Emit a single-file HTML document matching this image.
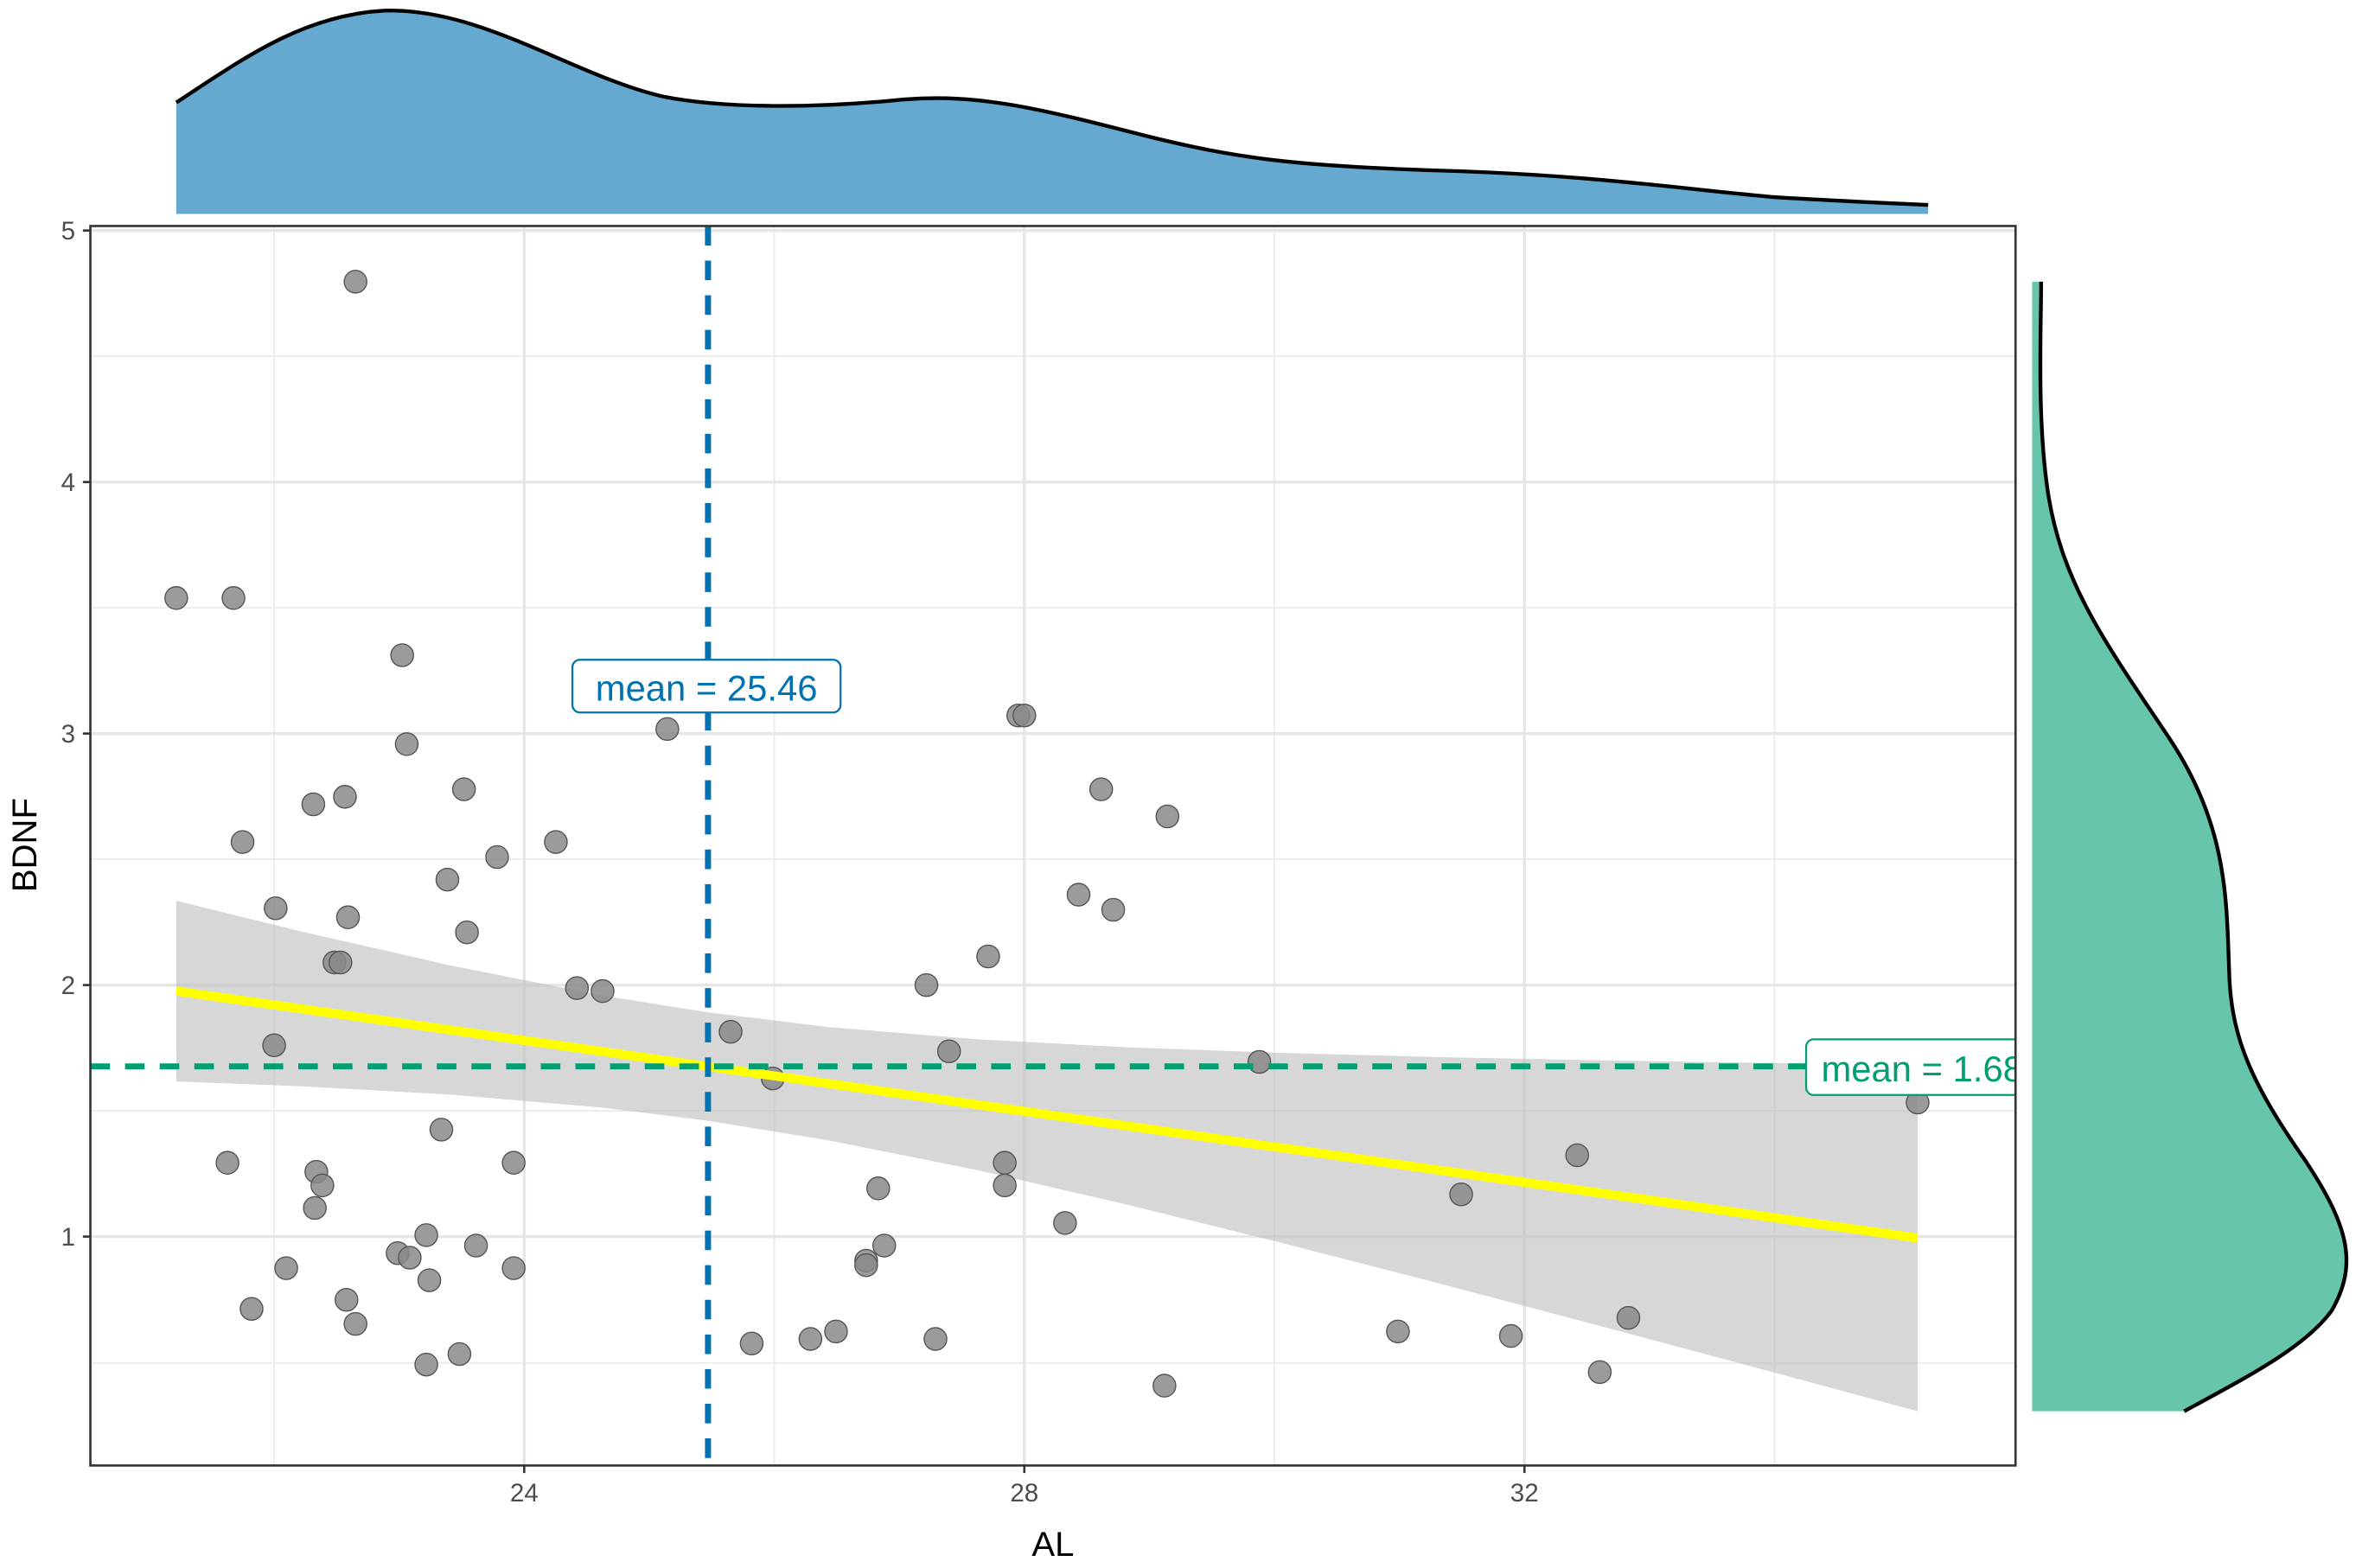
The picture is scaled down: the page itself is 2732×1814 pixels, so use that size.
<!DOCTYPE html>
<html><head><meta charset="utf-8"><style>html,body{margin:0;padding:0;background:#fff}svg{display:block}</style></head>
<body>
<svg width="2732" height="1814" viewBox="0 0 1568 1041" xmlns="http://www.w3.org/2000/svg" font-family="Liberation Sans, Arial, sans-serif">
<rect width="1568" height="1041" fill="#fff"/>
<path d="M117,142 L117,68 C160,40 200,10 255,7 C320,5 380,50 440,64 C480,72 540,72 600,66 C650,62 690,72 760,90 C820,105 860,110 950,113 C1060,116 1120,126 1180,131 C1230,134 1260,135 1280,136 L1280,142 Z" fill="#65a9d1"/>
<path d="M117,68 C160,40 200,10 255,7 C320,5 380,50 440,64 C480,72 540,72 600,66 C650,62 690,72 760,90 C820,105 860,110 950,113 C1060,116 1120,126 1180,131 C1230,134 1260,135 1280,136" fill="none" stroke="#000" stroke-width="2.5"/>
<path d="M1349,187 L1355,187 C1355,220 1352,280 1360,330 C1370,390 1400,430 1440,490 C1480,550 1478,600 1480,650 C1482,690 1495,720 1530,770 C1560,815 1565,840 1548,870 C1530,895 1490,915 1450,937 L1349,937 Z" fill="#66c5ab"/>
<path d="M1355,187 C1355,220 1352,280 1360,330 C1370,390 1400,430 1440,490 C1480,550 1478,600 1480,650 C1482,690 1495,720 1530,770 C1560,815 1565,840 1548,870 C1530,895 1490,915 1450,937" fill="none" stroke="#000" stroke-width="2.5"/>
<g stroke="#ebebeb" stroke-width="1">
<line x1="60" x2="1338" y1="905" y2="905"/><line x1="60" x2="1338" y1="737.5" y2="737.5"/><line x1="60" x2="1338" y1="570.5" y2="570.5"/><line x1="60" x2="1338" y1="403.5" y2="403.5"/><line x1="60" x2="1338" y1="236.5" y2="236.5"/>
<line y1="150" y2="973" x1="182" x2="182"/><line y1="150" y2="973" x1="514" x2="514"/><line y1="150" y2="973" x1="846" x2="846"/><line y1="150" y2="973" x1="1178" x2="1178"/>
</g>
<g stroke="#e6e6e6" stroke-width="2">
<line x1="60" x2="1338" y1="821" y2="821"/><line x1="60" x2="1338" y1="654" y2="654"/><line x1="60" x2="1338" y1="487" y2="487"/><line x1="60" x2="1338" y1="320" y2="320"/><line x1="60" x2="1338" y1="153" y2="153"/>
<line y1="150" y2="973" x1="348" x2="348"/><line y1="150" y2="973" x1="680" x2="680"/><line y1="150" y2="973" x1="1012" x2="1012"/>
</g>
<path d="M117,598 L200,618.4 L300,641.2 L400,661 L470,672.1 L550,681.9 L650,690.1 L750,695.4 L850,699 L950,701.7 L1050,703.7 L1150,705.4 L1273,707 L1273,937 L1150,903.8 L1050,877.1 L950,850.7 L850,825 L750,800.2 L650,777.1 L550,757.1 L470,744.1 L400,735.4 L300,726.8 L200,721.2 L117,718 Z" fill="#bfbfbf" fill-opacity="0.62"/>
<g fill="#8a8a8a" fill-opacity="0.85" stroke="#555" stroke-width="0.8">
<circle cx="117" cy="397" r="7.5"/><circle cx="155" cy="397" r="7.5"/><circle cx="236" cy="187" r="7.5"/><circle cx="267" cy="435" r="7.5"/><circle cx="270" cy="494" r="7.5"/><circle cx="161" cy="559" r="7.5"/><circle cx="208" cy="534" r="7.5"/><circle cx="229" cy="529" r="7.5"/><circle cx="308" cy="524" r="7.5"/><circle cx="183" cy="603" r="7.5"/><circle cx="231" cy="609" r="7.5"/><circle cx="222" cy="639" r="7.5"/><circle cx="226" cy="639" r="7.5"/><circle cx="297" cy="584" r="7.5"/><circle cx="310" cy="619" r="7.5"/><circle cx="330" cy="569" r="7.5"/><circle cx="369" cy="559" r="7.5"/><circle cx="383" cy="656" r="7.5"/><circle cx="400" cy="658" r="7.5"/><circle cx="443" cy="484" r="7.5"/><circle cx="182" cy="694" r="7.5"/><circle cx="151" cy="772" r="7.5"/><circle cx="293" cy="750" r="7.5"/><circle cx="210" cy="778" r="7.5"/><circle cx="214" cy="787" r="7.5"/><circle cx="209" cy="802" r="7.5"/><circle cx="341" cy="772" r="7.5"/><circle cx="264" cy="832" r="7.5"/><circle cx="272" cy="835" r="7.5"/><circle cx="283" cy="820" r="7.5"/><circle cx="316" cy="827" r="7.5"/><circle cx="285" cy="850" r="7.5"/><circle cx="190" cy="842" r="7.5"/><circle cx="341" cy="842" r="7.5"/><circle cx="230" cy="863" r="7.5"/><circle cx="236" cy="879" r="7.5"/><circle cx="167" cy="869" r="7.5"/><circle cx="283" cy="906" r="7.5"/><circle cx="305" cy="899" r="7.5"/><circle cx="485" cy="685" r="7.5"/><circle cx="513" cy="716" r="7.5"/><circle cx="499" cy="892" r="7.5"/><circle cx="538" cy="889" r="7.5"/><circle cx="555" cy="884" r="7.5"/><circle cx="575" cy="837" r="7.5"/><circle cx="575" cy="840" r="7.5"/><circle cx="587" cy="827" r="7.5"/><circle cx="583" cy="789" r="7.5"/><circle cx="615" cy="654" r="7.5"/><circle cx="656" cy="635" r="7.5"/><circle cx="630" cy="698" r="7.5"/><circle cx="621" cy="889" r="7.5"/><circle cx="667" cy="772" r="7.5"/><circle cx="667" cy="787" r="7.5"/><circle cx="676" cy="475" r="7.5"/><circle cx="680" cy="475" r="7.5"/><circle cx="707" cy="812" r="7.5"/><circle cx="716" cy="594" r="7.5"/><circle cx="731" cy="524" r="7.5"/><circle cx="739" cy="604" r="7.5"/><circle cx="775" cy="542" r="7.5"/><circle cx="773" cy="920" r="7.5"/><circle cx="836" cy="705" r="7.5"/><circle cx="928" cy="884" r="7.5"/><circle cx="970" cy="793" r="7.5"/><circle cx="1003" cy="887" r="7.5"/><circle cx="1047" cy="767" r="7.5"/><circle cx="1062" cy="911" r="7.5"/><circle cx="1081" cy="875" r="7.5"/><circle cx="1273" cy="732" r="7.5"/>
</g>
<line x1="117" y1="658" x2="1273" y2="822" stroke="#ffff00" stroke-width="6"/>
<line x1="470" y1="150" x2="470" y2="973" stroke="#0072b2" stroke-width="4" stroke-dasharray="13,10"/>
<line x1="60" y1="708" x2="1338" y2="708" stroke="#009e73" stroke-width="4" stroke-dasharray="13,10"/>
<rect x="380" y="438" width="178" height="35" rx="5" fill="#fff" stroke="#0072b2" stroke-width="1.3"/>
<text x="469" y="465" font-size="24" fill="#0072b2" text-anchor="middle">mean = 25.46</text>
<svg x="60" y="150" width="1278" height="823" overflow="hidden">
<rect x="1139" y="540" width="160" height="37" rx="5" fill="#fff" stroke="#009e73" stroke-width="1.3"/>
<text x="1149" y="568" font-size="24" fill="#009e73">mean = 1.68</text>
</svg>
<rect x="60" y="150" width="1278" height="823" fill="none" stroke="#333" stroke-width="1.5"/>
<g stroke="#333" stroke-width="1.5">
<line x1="55" x2="60" y1="153" y2="153"/><line x1="55" x2="60" y1="320" y2="320"/><line x1="55" x2="60" y1="487" y2="487"/><line x1="55" x2="60" y1="654" y2="654"/><line x1="55" x2="60" y1="821" y2="821"/>
<line x1="348" x2="348" y1="973" y2="978"/><line x1="680" x2="680" y1="973" y2="978"/><line x1="1012" x2="1012" y1="973" y2="978"/>
</g>
<g font-size="17" fill="#4d4d4d">
<text x="50" y="159" text-anchor="end">5</text><text x="50" y="326" text-anchor="end">4</text><text x="50" y="493" text-anchor="end">3</text><text x="50" y="660" text-anchor="end">2</text><text x="50" y="827" text-anchor="end">1</text>
<text x="348" y="997" text-anchor="middle">24</text><text x="680" y="997" text-anchor="middle">28</text><text x="1012" y="997" text-anchor="middle">32</text>
</g>
<text x="699" y="1033" font-size="23" text-anchor="middle" fill="#000">AL</text>
<text transform="translate(24,561) rotate(-90)" font-size="23" text-anchor="middle" fill="#000">BDNF</text>
</svg>
</body></html>
